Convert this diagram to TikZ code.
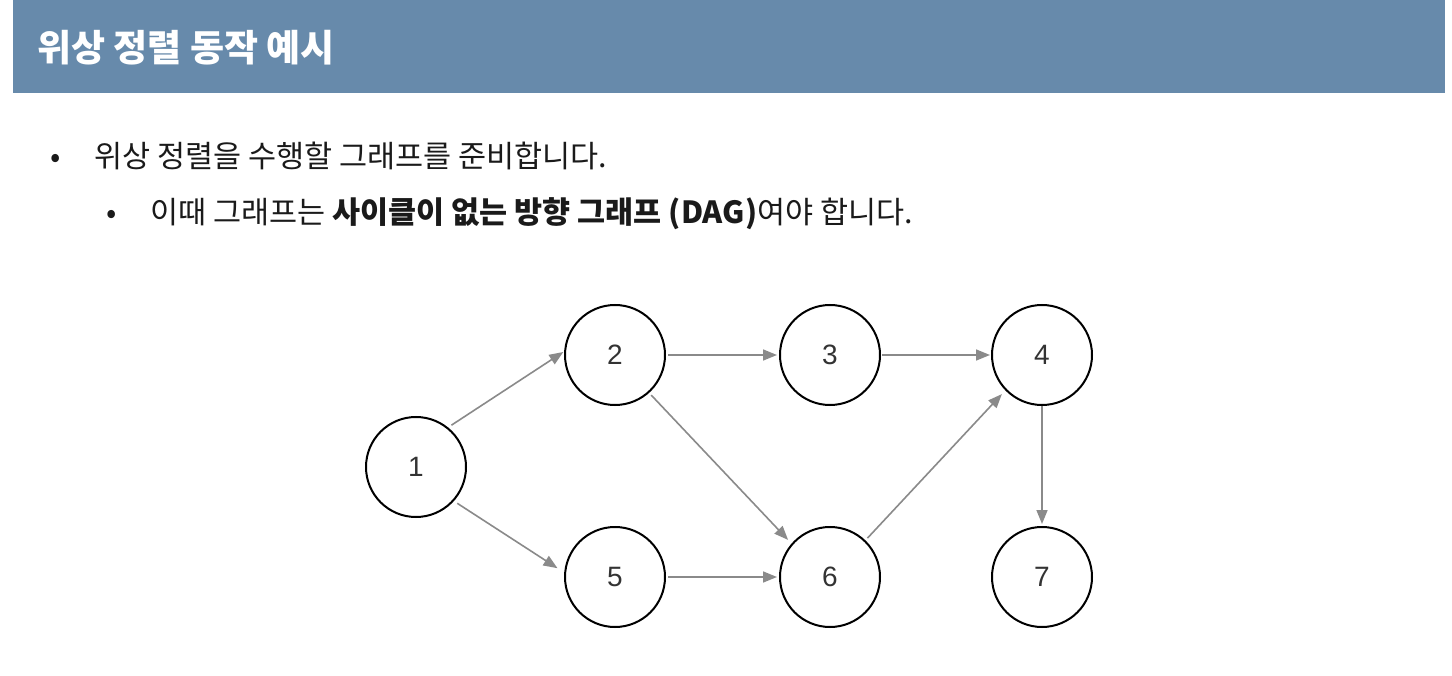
\documentclass[tikz,border=0pt]{standalone}
\usepackage{fontspec}
\setmainfont{Noto Sans CJK KR}
\newfontfamily\numfont{Liberation Sans}
\usetikzlibrary{arrows.meta}
\definecolor{hdr}{HTML}{678AAB}
\definecolor{edgegray}{HTML}{8A8A8A}
\definecolor{txt}{HTML}{1A1A1A}
\tikzset{
  vert/.style={circle, draw=black, line width=2pt, minimum size=100pt, inner sep=0pt,
    font=\numfont\fontsize{28}{28}\selectfont, text=black!80},
  arc/.style={draw=edgegray, line width=1.6pt, -{Triangle[length=14pt,width=11pt]}},
  txtline/.style={anchor=base west, inner sep=0pt, text=txt, font=\fontsize{30.5}{34}\selectfont},
}
\begin{document}
\begin{tikzpicture}[x=1pt,y=-1pt]
\useasboundingbox (0,0) rectangle (1452,676);
\fill[white] (0,0) rectangle (1452,676);
% header
\fill[hdr] (13,0) rectangle (1445,93);
\node[anchor=base west, inner sep=0pt, text=white, font=\fontsize{37}{40}\selectfont\bfseries] (title) at (37,62) {위상 정렬 동작 예시};
% bullets
\node[txtline] (b1) at (50,168) {•};
\node[txtline] (l1) at (94,168) {위상 정렬을 수행할 그래프를 준비합니다.};
\node[txtline] (b2) at (106,224) {•};
\node[txtline] (l2) at (150,224) {이때 그래프는 \textbf{사이클이 없는 방향 그래프 (DAG)}여야 합니다.};
% graph
\node[vert] (n1) at (416,467) {1};
\node[vert] (n2) at (615,355) {2};
\node[vert] (n3) at (830,355) {3};
\node[vert] (n4) at (1042,355) {4};
\node[vert] (n5) at (615,577) {5};
\node[vert] (n6) at (830,577) {6};
\node[vert] (n7) at (1042,577) {7};
\draw[arc, shorten <=4pt, shorten >=1pt] (n1.51) -- (n2.176);
\draw[arc, shorten <=4pt, shorten >=8pt] (n1.-42) -- (n5.175);
\draw[arc, shorten <=2pt, shorten >=2pt] (n2.0) -- (n3.180);
\draw[arc, shorten <=1pt, shorten >=1pt] (n3.0) -- (n4.180);
\draw[arc, shorten <=3pt, shorten >=5pt] (n2.-48) -- (n6.139);
\draw[arc, shorten <=2pt, shorten >=2pt] (n5.0) -- (n6.180);
\draw[arc, shorten <=3pt, shorten >=5pt] (n6.46) -- (n4.224);
\draw[arc, shorten <=0pt, shorten >=2pt] (n4.-90) -- (n7.90);
\end{tikzpicture}
\end{document}
